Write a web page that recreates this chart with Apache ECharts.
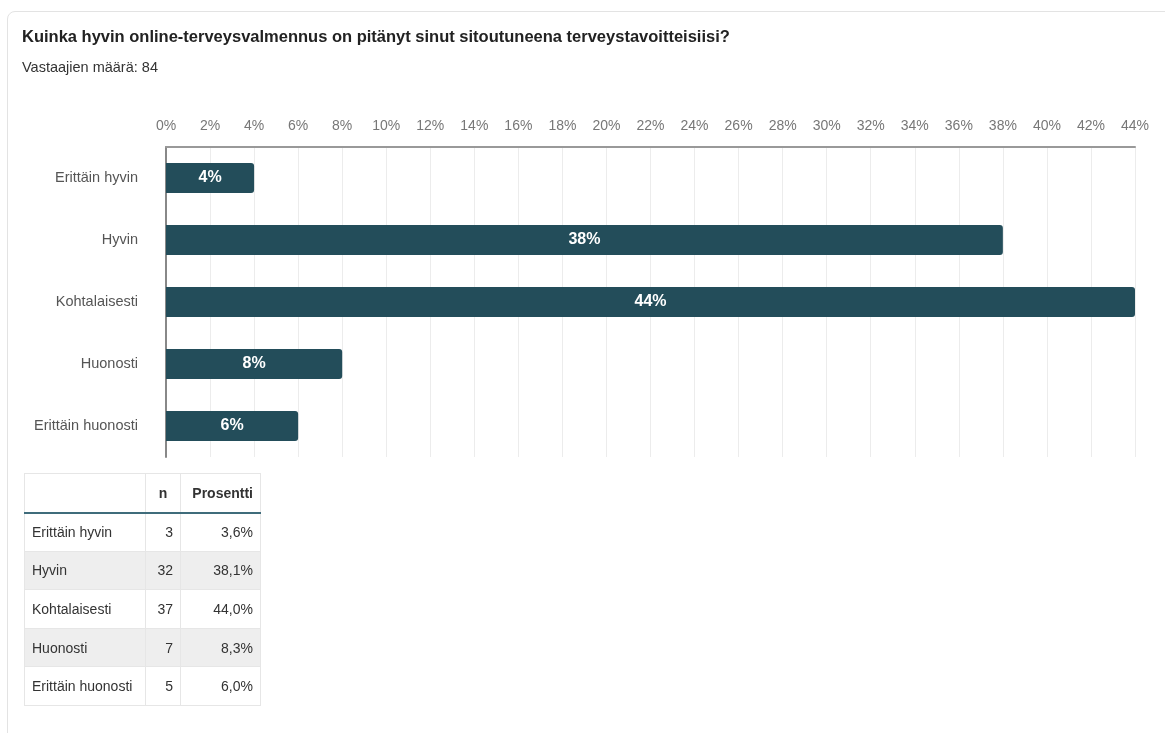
<!DOCTYPE html>
<html>
<head>
<meta charset="utf-8">
<script src="https://cdn.jsdelivr.net/npm/echarts@6/dist/echarts.min.js"></script>
<style>
  html, body { margin: 0; padding: 0; background: #fff; }
  #card { position: absolute; left: 7px; top: 11px; width: 1200px; height: 800px;
          border: 1px solid #e3e3e3; border-radius: 8px; box-sizing: border-box; }
  #main { position: absolute; left: 0; top: 0; width: 1165px; height: 733px; }
  #tbl { position: absolute; left: 24px; top: 473px; border-collapse: collapse; table-layout: fixed;
         width: 236px; font-family: "Liberation Sans", Arial, sans-serif; font-size: 14px; color: #333; }
  #tbl td, #tbl th { box-sizing: border-box; border: 1px solid #e6e6e6; height: 38.6px;
                     padding: 0 7px; white-space: nowrap; }
  #tbl th { height: 39px; font-weight: bold; text-align: right; border-bottom: 2px solid #3f6c7b; }
  #tbl td.num { text-align: right; }
  #tbl tr.alt td { background: #eeeeee; }
</style>
</head>
<body>
<div id="card"></div>
<div id="main"></div>
<table id="tbl">
  <colgroup><col style="width:121px"><col style="width:35px"><col style="width:80px"></colgroup>
</table>
<script>
// data
const categories = ['Erittäin hyvin', 'Hyvin', 'Kohtalaisesti', 'Huonosti', 'Erittäin huonosti'];
const barValues = [4, 38, 44, 8, 6];
const counts = [3, 32, 37, 7, 5];
const percents = ['3,6%', '38,1%', '44,0%', '8,3%', '6,0%'];

const chart = echarts.init(document.getElementById('main'));
chart.setOption({
  backgroundColor: 'transparent',
  textStyle: { fontFamily: '"Liberation Sans", Arial, sans-serif' },
  title: [{
    text: 'Kuinka hyvin online-terveysvalmennus on pitänyt sinut sitoutuneena terveystavoitteisiisi?',
    left: 17, top: 24,
    textStyle: { fontSize: 16.5, fontWeight: 'bold', color: '#222' }
  }, {
    text: 'Vastaajien määrä: 84',
    left: 17, top: 55,
    textStyle: { fontSize: 14.5, fontWeight: 'normal', color: '#333' }
  }],
  grid: { left: 166, right: 30, top: 147, bottom: 276 },
  xAxis: {
    type: 'value', position: 'top',
    min: 0, max: 44, interval: 2,
    axisLine: { show: true, lineStyle: { color: '#999', width: 2 } },
    axisTick: { show: false },
    axisLabel: { formatter: '{value}%', color: '#777', fontSize: 14, margin: 14 },
    splitLine: { show: true, lineStyle: { color: '#ececec', width: 1 } }
  },
  yAxis: {
    type: 'category', inverse: true, data: categories,
    axisLine: { show: true, lineStyle: { color: '#888', width: 2 } },
    axisTick: { show: false },
    axisLabel: { color: '#555', fontSize: 14.5, margin: 28 }
  },
  series: [{
    type: 'bar',
    data: barValues,
    barWidth: 30,
    itemStyle: { color: '#234d5a', borderRadius: [0, 3, 3, 0] },
    label: {
      show: true, position: 'inside', formatter: '{c}%',
      color: '#fff', fontSize: 16, fontWeight: 'bold'
    }
  }]
});

// table
const tbl = document.getElementById('tbl');
let html = '<tr><th></th><th style="text-align:center">n</th><th>Prosentti</th></tr>';
categories.forEach((c, i) => {
  html += '<tr' + (i % 2 === 1 ? ' class="alt"' : '') + '><td>' + c + '</td><td class="num">' +
    counts[i] + '</td><td class="num">' + percents[i] + '</td></tr>';
});
tbl.insertAdjacentHTML('beforeend', html);
</script>
</body>
</html>
